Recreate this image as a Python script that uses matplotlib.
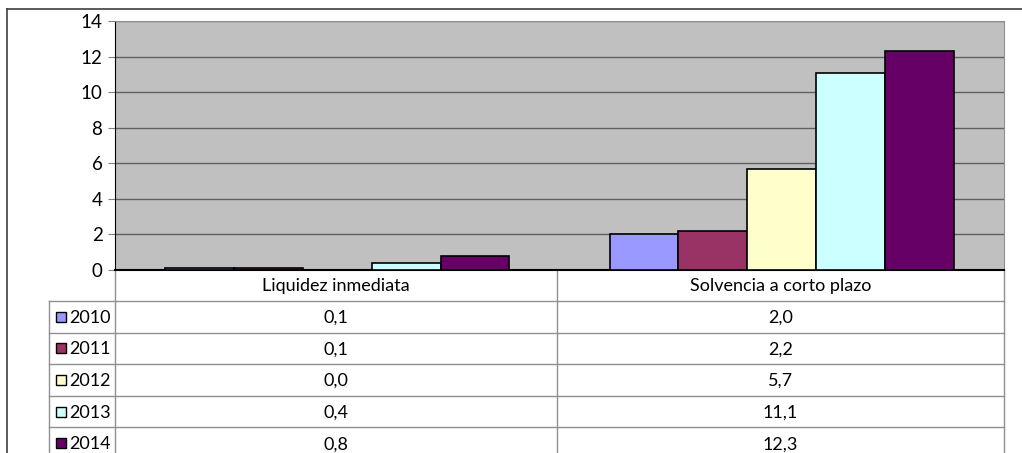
import numpy as np
import matplotlib.pyplot as plt
from matplotlib.patches import Rectangle

plt.rcParams['font.family'] = ['Lato', 'DejaVu Sans']

categories = ['Liquidez inmediata', 'Solvencia a corto plazo']
years = ['2010', '2011', '2012', '2013', '2014']
values = [
    [0.1, 2.0],
    [0.1, 2.2],
    [0.0, 5.7],
    [0.4, 11.1],
    [0.8, 12.3],
]
labels = [
    ['0,1', '2,0'],
    ['0,1', '2,2'],
    ['0,0', '5,7'],
    ['0,4', '11,1'],
    ['0,8', '12,3'],
]
colors = ['#9999FF', '#993366', '#FFFFCC', '#CCFFFF', '#660066']

W, H = 1022, 453
fig = plt.figure(figsize=(W / 100, H / 100), dpi=100)

# outer frame (pixel coords)
frame = fig.add_axes([0, 0, 1, 1])
frame.set_xlim(0, W)
frame.set_ylim(H, 0)
frame.axis('off')
frame.plot([7, W], [9, 9], color='#404040', lw=1.2)
frame.plot([7, 7], [9, H], color='#404040', lw=1.2)

# plot area
px0, px1, py0, py1 = 115, 1004, 21, 270
ax = fig.add_axes([px0 / W, 1 - py1 / H, (px1 - px0) / W, (py1 - py0) / H])
ax.set_facecolor('#C0C0C0')
x = np.arange(len(categories))
bw = 0.155
for i, (yr, vals, c) in enumerate(zip(years, values, colors)):
    ax.bar(x + (i - 2) * bw, vals, bw, color=c, edgecolor='black', linewidth=1.2, zorder=3)
ax.set_xlim(-0.5, 1.5)
ax.set_ylim(0, 14)
ax.set_yticks(range(0, 15, 2))
ax.set_xticks([])
ax.grid(axis='y', color='#606060', lw=1, zorder=0)
ax.tick_params(axis='y', length=5, color='#808080', labelsize=13.5, pad=4)
for s in ['top', 'right']:
    ax.spines[s].set_color('#909090')
ax.spines['left'].set_color('black')
ax.spines['bottom'].set_color('black')
ax.spines['bottom'].set_linewidth(1.5)

# data table drawn beneath the plot
tc = '#909090'
row_h = 31.6
head_top, head_bot = 270, 301
col_left, col_mid = 49, 557
fs = 13
frame.plot([px0, px0], [py1, H], color=tc, lw=1)
frame.plot([col_mid, col_mid], [py1, H], color=tc, lw=1)
frame.plot([px1, px1], [py1, H], color=tc, lw=1)
frame.plot([col_left, col_left], [head_bot, H], color=tc, lw=1)
for k in range(len(years)):
    yl = head_bot + k * row_h
    frame.plot([col_left, px1], [yl, yl], color=tc, lw=1)

centers = [(px0 + col_mid) / 2, (col_mid + px1) / 2]
for cx, cat in zip(centers, categories):
    frame.text(cx, (head_top + head_bot) / 2 + 1, cat, ha='center', va='center', fontsize=fs)

for k, (yr, c, labs) in enumerate(zip(years, colors, labels)):
    yc = head_bot + (k + 0.5) * row_h
    frame.add_patch(Rectangle((56, yc - 5), 10, 10, facecolor=c, edgecolor='black', lw=1))
    frame.text(69, yc + 1, yr, ha='left', va='center', fontsize=fs)
    for cx, lab in zip(centers, labs):
        frame.text(cx, yc + 1, lab, ha='center', va='center', fontsize=fs)

fig.savefig('out.png', dpi=100)
